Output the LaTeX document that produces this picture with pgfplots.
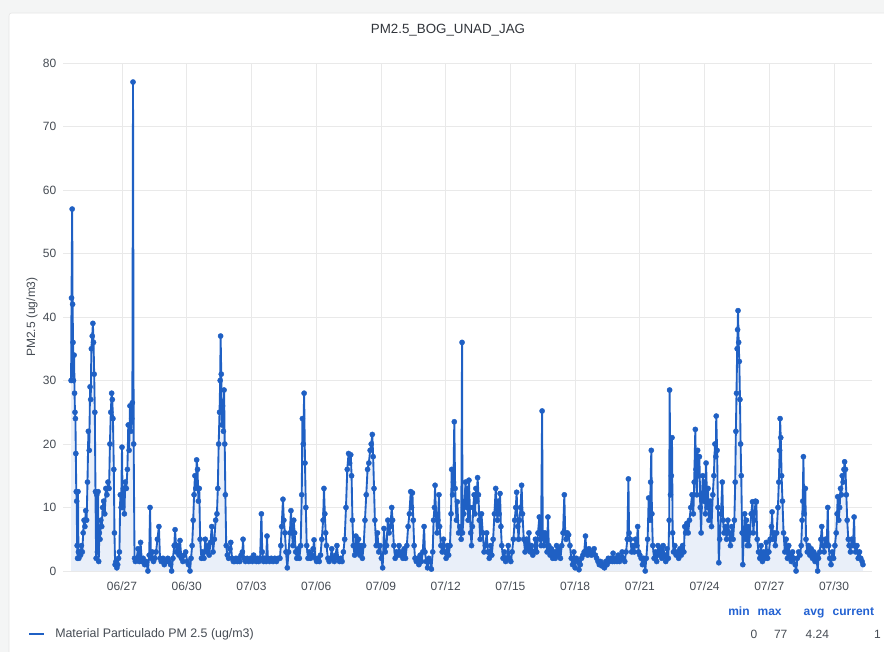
\documentclass[border=0pt]{standalone}
\usepackage{pgfplots}
\pgfplotsset{compat=1.18}
\usepackage{pgfplotstable}
\usepackage{fontspec}
\setmainfont{Liberation Sans}
\definecolor{lineblue}{RGB}{31,96,196}
\definecolor{txt}{RGB}{70,76,84}
\definecolor{hdr}{RGB}{35,98,210}
\definecolor{pagebg}{RGB}{244,245,245}
\definecolor{gridc}{RGB}{233,233,233}

\pgfplotstableread{
d v
0.64 30
0.66 43
0.69 57
0.71 42
0.73 36
0.75 30
0.78 34
0.80 28
0.82 25
0.84 24
0.86 18.5
0.88 12.5
0.90 11
0.92 4
0.94 2
0.96 12.5
0.98 3
1.00 2
1.04 3
1.08 2.5
1.12 4
1.16 3
1.20 6
1.24 8
1.28 7
1.32 9.5
1.36 8
1.40 14
1.44 22
1.48 19
1.52 29
1.55 27
1.58 35
1.62 37
1.65 39
1.68 36
1.71 31
1.74 25
1.77 12.5
1.80 2
1.83 12
1.86 3
1.89 12.5
1.92 1.5
1.95 6
1.98 5
2.02 8
2.06 7
2.10 10
2.15 11
2.20 9
2.25 13
2.30 12
2.35 14
2.40 13
2.44 20
2.48 25
2.52 28
2.55 27
2.58 24
2.62 16
2.65 6
2.68 1
2.72 1.5
2.76 0.5
2.80 1
2.84 2
2.88 3
2.92 12
2.96 10
3.00 19.5
3.03 10
3.07 13
3.11 9
3.15 14
3.20 13
3.25 16
3.29 23
3.33 19
3.37 26
3.41 22
3.45 24
3.48 26.5
3.51 77
3.54 20
3.58 2
3.62 1.5
3.68 2
3.74 3.5
3.80 1.5
3.86 4.5
3.92 1.5
3.98 2
4.05 1
4.12 1.5
4.20 0
4.26 2.5
4.30 10
4.34 2
4.40 3
4.46 1.5
4.52 2
4.58 3
4.64 5
4.71 7
4.76 2
4.82 1.5
4.90 2
4.96 1
5.05 1.5
5.12 2
5.18 1.5
5.25 1
5.30 0
5.36 2
5.42 4
5.46 6.5
5.52 3
5.58 4
5.64 2.5
5.69 4.8
5.75 2
5.82 1.5
5.88 2.5
5.95 3
6.02 1.5
6.08 1
6.15 0
6.20 2
6.25 4
6.30 8
6.34 12
6.38 15
6.42 13
6.46 17.5
6.50 16
6.54 11
6.58 13
6.62 5
6.68 2
6.74 3
6.80 2
6.86 5
6.92 3
6.98 4
7.04 2.5
7.10 4.5
7.16 7
7.22 3
7.28 5
7.34 8
7.40 9
7.44 13
7.48 20
7.52 25
7.55 30
7.57 37
7.60 31
7.63 23
7.66 26
7.70 22
7.73 28.5
7.76 20
7.79 12
7.83 4
7.88 2.5
7.94 2
8.00 3.5
8.04 4.5
8.10 2
8.16 1.5
8.22 1.5
8.28 2
8.34 1.5
8.40 2
8.46 1.5
8.52 2.5
8.58 3
8.61 5
8.65 2
8.72 1.5
8.80 2
8.88 1.5
8.96 2
9.04 1.5
9.10 2.5
9.16 2
9.22 1.5
9.28 2
9.34 1.5
9.40 2
9.46 9
9.50 3
9.56 1.5
9.62 2
9.68 1.5
9.72 5.5
9.76 2
9.84 1.5
9.92 2
10.00 1.5
10.08 2
10.16 1.5
10.24 2
10.32 2
10.36 4
10.40 7
10.46 11.3
10.50 8
10.55 6
10.60 3
10.66 0.5
10.72 3
10.78 6
10.83 9.5
10.88 6
10.92 4
10.96 8
11.00 6
11.05 3
11.10 2
11.16 3.5
11.22 2
11.28 4
11.33 12
11.36 24
11.40 20
11.44 28
11.48 17
11.52 10
11.56 4
11.62 2
11.68 3
11.74 2
11.80 2.5
11.86 3.5
11.90 4.9
11.96 2
12.02 1.5
12.08 2
12.14 1.5
12.20 2.5
12.26 5
12.32 8
12.36 13
12.40 9
12.44 6
12.48 4
12.54 2
12.60 1.5
12.66 2
12.72 3.5
12.78 2
12.84 1.5
12.90 2.5
12.96 4
13.02 2
13.08 1.5
13.14 2
13.20 1.5
13.26 3
13.32 5
13.38 10
13.44 16
13.50 18.5
13.55 17
13.60 18.3
13.64 15
13.68 8
13.72 4
13.78 2.5
13.84 5.5
13.90 3
13.96 5
14.02 2.5
14.08 4
14.14 2
14.20 4
14.26 8
14.32 12
14.38 16
14.44 17
14.50 19
14.55 20
14.60 21.5
14.64 18
14.68 13
14.72 8
14.78 4
14.84 6
14.90 3
14.96 4
15.02 2
15.08 0.5
15.14 6.7
15.20 3
15.26 4
15.32 8
15.38 6
15.44 7
15.50 10
15.54 8
15.60 4
15.66 2
15.72 3
15.78 2.5
15.84 4
15.90 2.5
15.96 3
16.02 2
16.08 3.5
16.14 2
16.20 4
16.26 7
16.32 9
16.38 12.5
16.42 10
16.46 12.3
16.50 8
16.54 4
16.58 2
16.64 1.5
16.70 2
16.76 1
16.82 2.5
16.88 1.5
16.94 3
17.00 7
17.04 3
17.10 1.5
17.16 0.5
17.22 2
17.28 1.5
17.34 0.3
17.40 3
17.44 8
17.48 10
17.51 13.5
17.55 9
17.60 6
17.64 8
17.69 12
17.72 7
17.78 4
17.84 3
17.90 5
17.96 3
18.02 2
18.08 4
18.14 2.5
18.20 4
18.25 9
18.28 16
18.32 12
18.36 14
18.40 23.5
18.44 13
18.50 8
18.54 10.9
18.60 6
18.66 7
18.72 5
18.76 36
18.78 6
18.84 9
18.88 11
18.92 14
18.96 10
19.00 13
19.04 8
19.08 14.3
19.12 10
19.16 6
19.20 4
19.24 7
19.28 10
19.32 12
19.36 9
19.40 13
19.44 11
19.48 14.7
19.52 12
19.56 8
19.60 5
19.66 9
19.72 6
19.78 3
19.84 4
19.90 6
19.96 3
20.02 2
20.08 4
20.14 2.5
20.20 5
20.26 9
20.32 13
20.36 10
20.40 8
20.44 11
20.48 9
20.52 12.2
20.56 7
20.60 4
20.66 2
20.72 3
20.78 1.5
20.84 2
20.90 4
20.96 2
21.02 1.5
21.08 3
21.14 5
21.20 8
21.25 10
21.29 12.4
21.34 7
21.38 5
21.42 8
21.47 10
21.52 13.5
21.56 9
21.62 5
21.68 3
21.74 5
21.80 3.5
21.86 6
21.92 3
21.98 4
22.04 2.5
22.10 3
22.16 5
22.22 3
22.28 6
22.34 8.5
22.38 5
22.42 4
22.47 25.2
22.50 6
22.55 4
22.60 6
22.65 5
22.70 3
22.74 8.5
22.78 4
22.84 2.5
22.90 3.5
22.96 2
23.02 3
23.08 2
23.14 4
23.20 2.5
23.26 3.5
23.32 2
23.38 4
23.44 6
23.50 12
23.54 6
23.58 5
23.64 6
23.70 5.7
23.76 4
23.82 2
23.88 1
23.94 3
24.00 0.5
24.06 2
24.12 1.5
24.18 0.2
24.24 1
24.30 2
24.36 2.5
24.42 3
24.48 5.5
24.52 3
24.58 2.5
24.64 3.5
24.70 3
24.76 2.5
24.82 3
24.88 3.5
24.94 2.5
25.00 2
25.06 1.5
25.12 1
25.18 1.5
25.24 0.8
25.30 1
25.36 0.5
25.42 1.5
25.48 1
25.54 2
25.60 1.5
25.66 2
25.72 1.5
25.76 2.8
25.82 1.5
25.88 2
25.94 1.5
26.00 2.5
26.06 1.5
26.12 2
26.18 3
26.24 2
26.30 1.5
26.36 3
26.42 5
26.47 14.5
26.50 6
26.56 5
26.62 3
26.68 4
26.74 3
26.80 5
26.86 4
26.90 7
26.94 3
27.00 2.5
27.06 2
27.12 1
27.18 2
27.25 0
27.30 2
27.36 5
27.41 11.5
27.46 8
27.50 14
27.53 19
27.56 9
27.60 4
27.66 2
27.72 3
27.78 1.5
27.84 4
27.90 2.5
27.96 3.5
28.02 2
28.08 4
28.14 2.5
28.20 1.5
28.26 3.5
28.32 2
28.36 8
28.38 28.5
28.42 12
28.46 15
28.49 21
28.52 6
28.56 3
28.62 4
28.68 2.5
28.74 3
28.80 2
28.86 3.5
28.92 2.5
28.98 4
29.04 3
29.08 7
29.12 6
29.18 7.5
29.24 6
29.30 8
29.36 10
29.42 12
29.48 9
29.52 14
29.57 22.3
29.60 16
29.64 12
29.68 19
29.72 15
29.76 18
29.80 10
29.84 6
29.88 12
29.92 15
29.96 11
30.00 14
30.04 9
30.07 17
30.12 10
30.16 13
30.20 8
30.26 11
30.32 7
30.38 12
30.43 15
30.48 20
30.52 18
30.54 24.4
30.58 19
30.62 10
30.66 1.3
30.70 5
30.76 9
30.82 14
30.86 8
30.90 6
30.96 7
31.02 5
31.08 8
31.14 6
31.20 4
31.26 7
31.32 5
31.38 8
31.42 14
31.45 22
31.48 28
31.51 35
31.53 38
31.55 41
31.58 36
31.61 33
31.64 27
31.67 20
31.70 15
31.74 6
31.77 1
31.82 6
31.86 9
31.90 5
31.94 8
31.98 4
32.02 7
32.06 4
32.10 6
32.16 9
32.22 10.9
32.26 6
32.30 8
32.36 11
32.40 10.9
32.44 5
32.50 3
32.56 2
32.62 4
32.68 1.5
32.74 3
32.80 2
32.86 4.5
32.92 2
32.98 3
33.04 5
33.10 7
33.13 9.3
33.17 5
33.22 6
33.28 4
33.34 6
33.40 10
33.44 14
33.48 19
33.50 24
33.53 21
33.57 15
33.61 11
33.66 6
33.72 3
33.78 5
33.84 2
33.90 4
33.96 2.5
34.02 1.5
34.08 3
34.14 2
34.20 1
34.24 0
34.30 2
34.36 3
34.42 2.5
34.48 4
34.52 8
34.55 11
34.58 18
34.62 9
34.67 13
34.70 5
34.76 3
34.82 4
34.88 2.5
34.94 3.5
35.00 2
35.06 3
35.12 1.5
35.18 2.5
35.24 0
35.28 2
35.34 3
35.39 5
35.43 7
35.48 4
35.54 3
35.60 5
35.66 4
35.71 10
35.75 4
35.80 2
35.86 1
35.92 3
35.98 2
36.04 4
36.10 6
36.14 9
36.17 11.7
36.22 8
36.26 10
36.30 13
36.34 12
36.38 15
36.42 14
36.46 16
36.49 17.2
36.53 16
36.57 12
36.61 8
36.66 5
36.70 4
36.76 3
36.82 5
36.88 4
36.93 8.5
36.96 4
37.00 3
37.06 4
37.12 2
37.18 3
37.24 2
37.30 1.5
37.34 1
}\pmdata

\begin{document}
\begin{tikzpicture}
\useasboundingbox (0,0) rectangle (663pt,489pt);
\fill[pagebg] (0,0) rectangle (663pt,489pt);
\filldraw[fill=white,draw=gray!20,rounded corners=2pt] (6.75pt,-5pt) rectangle (670pt,479.25pt);
\begin{axis}[
  at={(47.25pt,60.75pt)}, anchor=south west,
  scale only axis, width=606.75pt, height=381pt,
  xmin=0.265, xmax=37.76, ymin=0, ymax=80,
  xtick={3,6,...,36},
  xticklabels={06/27,06/30,07/03,07/06,07/09,07/12,07/15,07/18,07/21,07/24,07/27,07/30},
  ytick={0,10,...,80},
  axis line style={draw=none},
  major tick length=0pt,
  grid=major, major grid style={gridc, line width=0.6pt},
  tick label style={font=\fontsize{9}{10}\selectfont, text=txt},
  xticklabel style={yshift=-4.5pt},
  yticklabel style={xshift=-1.5pt},
  /pgf/number format/assume math mode=true,
  ylabel={PM2.5 (ug/m3)},
  ylabel style={at={(axis description cs:-0.0383,0.5)}, anchor=center, font=\fontsize{9}{10}\selectfont, text=txt},
]
\addplot[draw=none, fill=lineblue!10] table[x=d,y=v]{\pmdata} \closedcycle;
\addplot[lineblue, line width=1.4pt, line join=round, mark=*, mark size=1.95pt, mark options={fill=lineblue, draw=lineblue, line width=0.3pt}] table[x=d,y=v]{\pmdata};
\end{axis}
\node[font=\fontsize{10}{12}\selectfont, text=txt!70!black] at (336pt,466.5pt) {PM2.5\_BOG\_UNAD\_JAG};
\draw[lineblue, line width=2.2pt] (21.75pt,13.5pt) -- (33pt,13.5pt);
\node[anchor=west, inner sep=0pt, font=\fontsize{9.3}{11}\selectfont, text=txt] at (41.25pt,13.5pt) {Material Particulado PM 2.5 (ug/m3)};
\begin{scope}[every node/.style={font=\fontsize{9}{11}\selectfont\bfseries, text=hdr, inner sep=0pt, anchor=base}]
\node at (554.2pt,27.6pt) {min};
\node at (577.2pt,27.6pt) {max};
\node at (610.5pt,27.6pt) {avg};
\node at (640pt,27.6pt) {current};
\end{scope}
\begin{scope}[every node/.style={font=\fontsize{9}{11}\selectfont, text=txt, inner sep=0pt, anchor=base}]
\node at (565.5pt,10.3pt) {0};
\node at (585.5pt,10.3pt) {77};
\node at (613pt,10.3pt) {4.24};
\node at (658pt,10.3pt) {1};
\end{scope}
\end{tikzpicture}
\end{document}
